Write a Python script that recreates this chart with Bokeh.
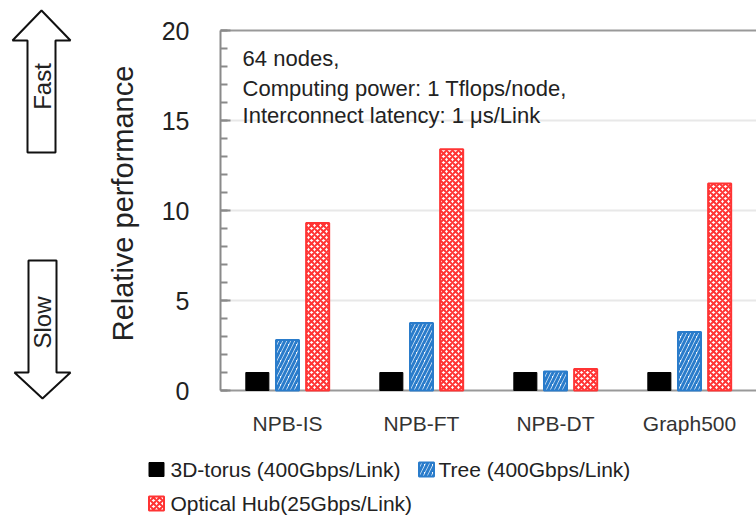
from bokeh.plotting import figure
from bokeh.models import (ColumnDataSource, FactorRange, Range1d, Label, Grid, FixedTicker)
from bokeh.core.properties import value
from bokeh.transform import dodge
from bokeh.layouts import row, column
from bokeh.embed import file_html
from bokeh.resources import INLINE

# ---- data ----
categories = ["NPB-IS", "NPB-FT", "NPB-DT", "Graph500"]
torus_3d = [1.0, 1.0, 1.0, 1.0]
tree = [2.8, 3.75, 1.05, 3.25]
optical_hub = [9.3, 13.4, 1.2, 11.5]
y_ticks = [0, 5, 10, 15, 20]
grid_ticks = [5, 10, 15]
series_names = ["3D-torus (400Gbps/Link)", "Tree (400Gbps/Link)", "Optical Hub(25Gbps/Link)"]
note_lines = ["64 nodes,", "Computing power: 1 Tflops/node,", "Interconnect latency: 1 \u03bcs/Link"]

FONT = "Liberation Sans"
BLUE = "#2a7ccb"
RED = "#ff3434"
AXIS = "#8a8a8a"
TXT = "#222222"

styles = [
    dict(fill_color="black", line_color="black", line_width=1),
    dict(fill_color="white", line_color=BLUE, line_width=2,
         hatch_pattern="right_diagonal_line", hatch_color=BLUE, hatch_scale=8, hatch_weight=3),
    dict(fill_color="white", line_color=RED, line_width=2,
         hatch_pattern="diagonal_cross", hatch_color=RED, hatch_scale=6, hatch_weight=2),
]

src = ColumnDataSource(dict(cat=categories, torus=torus_3d, tree=tree, hub=optical_hub))

TOP_H = 440
FRAME_TOP, FRAME_BOT = 6, 400
PX_PER_UNIT = 18.0
ZERO_Y = 390

# ---- left decoration: Fast / Slow arrows (page pixel coordinates) ----
left = figure(width=80, height=TOP_H, x_range=Range1d(0, 80), y_range=Range1d(FRAME_BOT, FRAME_TOP),
              output_backend="svg", toolbar_location=None,
              min_border_left=0, min_border_right=0, min_border_top=FRAME_TOP,
              min_border_bottom=TOP_H - FRAME_BOT)
left.axis.visible = False
left.grid.visible = False
left.outline_line_color = None
up_x = [41, 70, 55, 55, 27, 27, 12]
up_y = [10, 40, 40, 152, 152, 40, 40]
dn_x = [28, 56, 56, 70, 42, 14, 28]
dn_y = [260, 260, 372, 372, 398, 372, 372]
left.patch(up_x, up_y, fill_color="white", line_color="#111111", line_width=2)
left.patch(dn_x, dn_y, fill_color="white", line_color="#111111", line_width=2)
left.add_layout(Label(x=42, y=86, text="Fast", angle=1.5708, text_align="center",
                      text_baseline="middle", text_font=FONT, text_font_size="24px",
                      text_color=TXT))
left.add_layout(Label(x=42, y=322, text="Slow", angle=1.5708, text_align="center",
                      text_baseline="middle", text_font=FONT, text_font_size="24px",
                      text_color=TXT))

# ---- main chart ----
y_start = -(FRAME_BOT - ZERO_Y) / PX_PER_UNIT
y_end = (ZERO_Y - FRAME_TOP) / PX_PER_UNIT
p = figure(width=676, height=TOP_H, x_range=FactorRange(*categories, range_padding=0),
           y_range=Range1d(y_start, y_end), output_backend="svg", toolbar_location=None,
           min_border_left=140, min_border_right=0, min_border_top=FRAME_TOP,
           min_border_bottom=TOP_H - FRAME_BOT)
p.outline_line_color = None
p.background_fill_color = "white"
p.border_fill_color = "white"

# horizontal reference lines (drawn beneath the bars)
p.xgrid.visible = False
p.ygrid.ticker = FixedTicker(ticks=grid_ticks)
p.ygrid.grid_line_color = "#e8e8e8"
p.ygrid.grid_line_width = 2
p.add_layout(Grid(dimension=1, ticker=FixedTicker(ticks=[y_ticks[0], y_ticks[-1]]),
                  grid_line_color="#999999", grid_line_width=2))

r1 = p.vbar(x=dodge("cat", -0.225, range=p.x_range), top="torus", width=0.172, source=src, **styles[0])
r2 = p.vbar(x=dodge("cat", 0.0, range=p.x_range), top="tree", width=0.172, source=src, **styles[1])
r3 = p.vbar(x=dodge("cat", 0.225, range=p.x_range), top="hub", width=0.172, source=src, **styles[2])

# y axis
p.yaxis.bounds = (0, 20)
p.yaxis.ticker = FixedTicker(ticks=y_ticks, minor_ticks=list(range(0, 21)))
p.yaxis.axis_line_color = AXIS
p.yaxis.axis_line_width = 2
p.yaxis.major_tick_in = 10
p.yaxis.major_tick_out = 0
p.yaxis.minor_tick_in = 7
p.yaxis.minor_tick_out = 0
p.yaxis.major_tick_line_color = AXIS
p.yaxis.minor_tick_line_color = AXIS
p.yaxis.major_tick_line_width = 2
p.yaxis.minor_tick_line_width = 2
p.yaxis.major_label_standoff = 31
p.yaxis.major_label_text_font = FONT
p.yaxis.major_label_text_font_size = "25px"
p.yaxis.major_label_text_color = TXT
p.yaxis.axis_label = "Relative performance"
p.yaxis.axis_label_text_font = FONT
p.yaxis.axis_label_text_font_size = "29px"
p.yaxis.axis_label_text_font_style = "normal"
p.yaxis.axis_label_text_color = TXT
p.yaxis.axis_label_standoff = 20

# x axis (labels only; baseline is the grid line at y=0)
p.xaxis.axis_line_color = None
p.xaxis.major_tick_line_color = None
p.xaxis.minor_tick_line_color = None
p.xaxis.major_label_standoff = 5
p.xaxis.major_label_text_font = FONT
p.xaxis.major_label_text_font_size = "21px"
p.xaxis.major_label_text_color = "#333333"

# annotation text
for txt, yv in zip(note_lines, [18.44, 16.78, 15.28]):
    p.add_layout(Label(x=0.165, y=yv, text=txt, text_font=FONT, text_font_size="22px",
                       text_color=TXT, text_baseline="alphabetic"))

# ---- legend strip (page pixel coordinates) ----
LEG_H = 77
leg = figure(width=756, height=LEG_H, x_range=Range1d(0, 756), y_range=Range1d(TOP_H + LEG_H, TOP_H),
             output_backend="svg", toolbar_location=None, min_border=0)
leg.axis.visible = False
leg.grid.visible = False
leg.outline_line_color = None
leg_box_x = [156, 426, 156]
leg_txt_x = [170, 438, 170]
leg_y = [469, 469, 503]
for i in range(3):
    leg.rect(x=[leg_box_x[i]], y=[leg_y[i]], width=15, height=14, **styles[i])
leg.text(x=leg_txt_x, y=leg_y, text=series_names, text_font=value(FONT),
         text_font_size="21px", text_color=TXT, text_baseline="middle", text_align="left")

layout = column(row(left, p), leg)
open("out.html", "w").write(file_html(layout, INLINE))
